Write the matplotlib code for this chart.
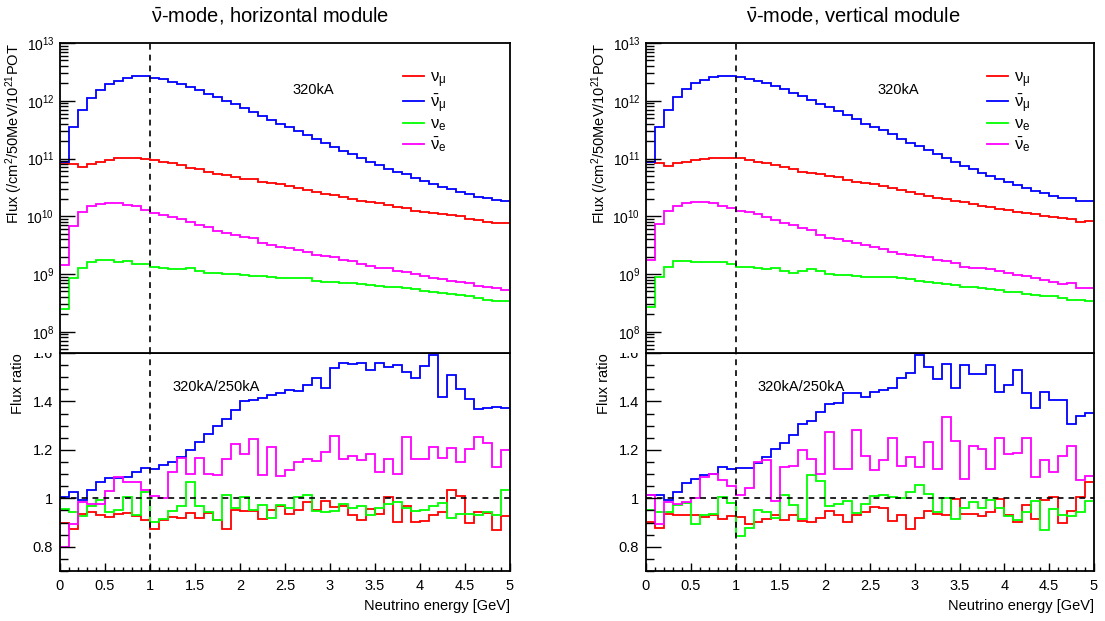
import numpy as np
import matplotlib
matplotlib.use("Agg")
import matplotlib.pyplot as plt
from matplotlib.ticker import MultipleLocator, LogLocator, FormatStrFormatter, LogFormatterSciNotation, NullFormatter
from matplotlib.patches import Rectangle
from matplotlib.lines import Line2D

plt.rcParams['font.family'] = ['Liberation Sans', 'DejaVu Sans']
plt.rcParams['mathtext.fontset'] = 'custom'
plt.rcParams['mathtext.rm'] = 'Liberation Sans'
plt.rcParams['mathtext.it'] = 'Liberation Sans:italic'
plt.rcParams['mathtext.bf'] = 'Liberation Sans:bold'

# ---------------- data ----------------
energy_edges = np.linspace(0.0, 5.0, 51)   # GeV, 100 MeV bins

flavour_labels = [r'$\mathrm{\nu_{\mu}}$', r'$\mathrm{\bar{\nu}_{\mu}}$',
                  r'$\mathrm{\nu_{e}}$', r'$\mathrm{\bar{\nu}_{e}}$']
flavour_colors = ['#ff0000', '#0000ff', '#00ff00', '#ff00ff']
module_titles = [r'$\mathrm{\bar{\nu}}$-mode, horizontal module',
                 r'$\mathrm{\bar{\nu}}$-mode, vertical module']

# horizontal module, 320kA flux
h_numu_flux = [8.5e10, 7.9e10, 7.1e10, 7.9e10, 8.7e10, 9.4e10, 1.01e11, 1.03e11, 1.03e11, 9.9e10,
               9.4e10, 8.8e10, 8.3e10, 7.6e10, 6.95e10, 6.5e10, 5.95e10, 5.5e10, 5.2e10, 4.8e10,
               4.5e10, 4.4e10, 4.0e10, 3.8e10, 3.6e10, 3.37e10, 3.03e10, 2.87e10, 2.65e10, 2.42e10,
               2.33e10, 2.12e10, 1.99e10, 1.86e10, 1.79e10, 1.67e10, 1.59e10, 1.47e10, 1.37e10, 1.25e10,
               1.2e10, 1.13e10, 1.1e10, 1.07e10, 1.03e10, 9.0e9, 8.65e9, 8.1e9, 7.7e9, 7.6e9]
h_numubar_flux = [8.8e10, 3.47e11, 6.8e11, 1.12e12, 1.55e12, 1.95e12, 2.24e12, 2.5e12, 2.66e12, 2.66e12,
                  2.51e12, 2.37e12, 2.14e12, 1.95e12, 1.72e12, 1.51e12, 1.33e12, 1.16e12, 1.0e12, 8.65e11,
                  7.4e11, 6.3e11, 5.4e11, 4.6e11, 3.98e11, 3.49e11, 2.96e11, 2.54e11, 2.19e11, 1.85e11,
                  1.6e11, 1.34e11, 1.19e11, 1.02e11, 8.7e10, 7.65e10, 6.67e10, 5.87e10, 5.3e10, 4.63e10,
                  4.15e10, 3.68e10, 3.25e10, 2.95e10, 2.66e10, 2.43e10, 2.19e10, 2.08e10, 1.94e10, 1.82e10]
h_nue_flux = [2.5e8, 8.4e8, 1.29e9, 1.59e9, 1.74e9, 1.74e9, 1.63e9, 1.69e9, 1.47e9, 1.47e9,
              1.34e9, 1.29e9, 1.2e9, 1.22e9, 1.29e9, 1.13e9, 1.05e9, 1.05e9, 1.0e9, 1.0e9,
              9.6e8, 9.35e8, 9.25e8, 9.0e8, 8.65e8, 8.65e8, 8.65e8, 8.65e8, 7.6e8, 7.4e8,
              7.2e8, 7.1e8, 6.9e8, 6.65e8, 6.5e8, 6.3e8, 6.05e8, 6.05e8, 5.8e8, 5.5e8,
              5.15e8, 4.95e8, 4.65e8, 4.45e8, 4.35e8, 4.1e8, 3.9e8, 3.57e8, 3.44e8, 3.47e8]
h_nuebar_flux = [1.46e9, 6.7e9, 1.2e10, 1.52e10, 1.63e10, 1.69e10, 1.69e10, 1.59e10, 1.49e10, 1.3e10,
                 1.14e10, 1.07e10, 9.6e9, 9.0e9, 7.9e9, 7.2e9, 6.5e9, 5.5e9, 5.1e9, 4.66e9,
                 4.36e9, 4.25e9, 3.48e9, 3.13e9, 3.0e9, 2.84e9, 2.65e9, 2.42e9, 2.12e9, 2.07e9,
                 1.99e9, 1.74e9, 1.67e9, 1.52e9, 1.39e9, 1.25e9, 1.25e9, 1.14e9, 1.1e9, 1.0e9,
                 9.35e8, 8.65e8, 8.2e8, 7.6e8, 7.2e8, 6.9e8, 6.3e8, 6.05e8, 5.8e8, 5.4e8]

# horizontal module, 320kA/250kA ratio
h_numu_ratio = [0.898, 0.872, 0.937, 0.944, 0.930, 0.922, 0.937, 0.940, 0.929, 0.912,
                0.875, 0.910, 0.925, 0.920, 0.938, 0.919, 0.940, 0.912, 0.875, 0.950,
                0.948, 0.948, 0.915, 0.950, 0.970, 0.935, 0.953, 0.983, 0.953, 0.988,
                0.963, 0.967, 0.930, 0.909, 0.956, 0.935, 1.004, 0.901, 0.967, 0.903,
                0.908, 0.930, 0.943, 1.036, 1.008, 0.898, 0.942, 0.939, 0.868, 0.928]
h_numubar_ratio = [1.007, 1.025, 0.992, 1.036, 1.067, 1.083, 1.083, 1.090, 1.110, 1.127,
                   1.122, 1.136, 1.149, 1.171, 1.199, 1.233, 1.266, 1.298, 1.329, 1.366,
                   1.402, 1.405, 1.414, 1.426, 1.435, 1.447, 1.443, 1.468, 1.495, 1.457,
                   1.537, 1.557, 1.554, 1.557, 1.530, 1.557, 1.543, 1.550, 1.523, 1.498,
                   1.546, 1.590, 1.418, 1.508, 1.452, 1.412, 1.370, 1.371, 1.377, 1.375]
h_nue_ratio = [0.955, 0.944, 0.928, 0.969, 0.992, 0.942, 0.952, 1.004, 0.932, 1.026,
               0.901, 0.916, 0.946, 0.967, 1.066, 0.967, 0.942, 0.912, 1.012, 0.960,
               1.004, 0.952, 0.974, 0.919, 0.974, 0.960, 1.006, 1.012, 0.949, 0.943,
               0.946, 0.977, 0.960, 0.967, 0.930, 0.960, 0.978, 0.985, 0.960, 0.946,
               0.953, 0.967, 0.981, 0.919, 0.937, 0.937, 0.930, 0.942, 0.932, 1.035]
h_nuebar_ratio = [0.799, 0.893, 0.984, 0.977, 0.976, 1.029, 1.087, 1.066, 1.066, 1.036,
                  1.008, 1.001, 1.108, 1.165, 1.101, 1.166, 1.101, 1.097, 1.163, 1.225,
                  1.181, 1.245, 1.095, 1.211, 1.094, 1.119, 1.149, 1.164, 1.156, 1.193,
                  1.257, 1.163, 1.174, 1.159, 1.181, 1.109, 1.161, 1.101, 1.252, 1.161,
                  1.164, 1.212, 1.167, 1.207, 1.149, 1.204, 1.254, 1.229, 1.130, 1.200]

# vertical module, 320kA flux
v_numu_flux = [8.7e10, 8.3e10, 7.4e10, 8.3e10, 8.8e10, 9.4e10, 9.9e10, 1.03e11, 1.03e11, 1.02e11,
               1.01e11, 9.4e10, 8.8e10, 8.3e10, 7.7e10, 7.1e10, 6.6e10, 5.9e10, 5.7e10, 5.35e10,
               5.0e10, 4.7e10, 4.27e10, 3.94e10, 3.74e10, 3.6e10, 3.37e10, 3.07e10, 2.87e10, 2.65e10,
               2.42e10, 2.26e10, 2.07e10, 1.99e10, 1.86e10, 1.74e10, 1.63e10, 1.52e10, 1.43e10, 1.34e10,
               1.3e10, 1.2e10, 1.14e10, 1.1e10, 1.03e10, 9.6e9, 9.25e9, 8.9e9, 8.1e9, 8.45e9]
v_numubar_flux = [8.8e10, 3.52e11, 7.0e11, 1.16e12, 1.61e12, 2.01e12, 2.3e12, 2.55e12, 2.73e12, 2.73e12,
                  2.59e12, 2.42e12, 2.21e12, 2.01e12, 1.79e12, 1.59e12, 1.39e12, 1.22e12, 1.04e12, 8.9e11,
                  7.7e11, 6.6e11, 5.6e11, 4.84e11, 4.03e11, 3.52e11, 3.09e11, 2.67e11, 2.19e11, 1.87e11,
                  1.64e11, 1.38e11, 1.18e11, 1.03e11, 8.8e10, 7.4e10, 6.5e10, 5.7e10, 5.0e10, 4.4e10,
                  3.94e10, 3.5e10, 3.07e10, 2.76e10, 2.52e10, 2.26e10, 2.07e10, 2.07e10, 1.86e10, 1.86e10]
v_nue_flux = [2.74e8, 9.0e8, 1.3e9, 1.69e9, 1.69e9, 1.63e9, 1.63e9, 1.59e9, 1.59e9, 1.47e9,
              1.3e9, 1.3e9, 1.25e9, 1.2e9, 1.25e9, 1.14e9, 1.05e9, 1.14e9, 1.2e9, 1.14e9,
              1.0e9, 9.6e8, 9.6e8, 9.35e8, 8.8e8, 8.8e8, 8.8e8, 9.0e8, 8.4e8, 8.1e8,
              7.7e8, 7.2e8, 6.9e8, 6.7e8, 6.5e8, 6.05e8, 6.05e8, 5.8e8, 5.5e8, 5.3e8,
              4.95e8, 4.8e8, 4.5e8, 4.35e8, 4.1e8, 4.25e8, 3.9e8, 3.57e8, 3.57e8, 3.48e8]
v_nuebar_flux = [1.74e9, 7.4e9, 1.23e10, 1.53e10, 1.68e10, 1.75e10, 1.75e10, 1.71e10, 1.5e10, 1.38e10,
                 1.23e10, 1.18e10, 1.1e10, 9.7e9, 8.5e9, 7.6e9, 6.95e9, 6.35e9, 5.7e9, 4.68e9,
                 4.22e9, 4.1e9, 3.74e9, 3.5e9, 3.16e9, 2.95e9, 2.69e9, 2.42e9, 2.26e9, 2.12e9,
                 2.04e9, 1.99e9, 1.74e9, 1.67e9, 1.57e9, 1.34e9, 1.29e9, 1.25e9, 1.22e9, 1.14e9,
                 1.03e9, 9.6e8, 9.25e8, 8.4e8, 7.9e8, 7.4e8, 6.7e8, 6.9e8, 5.8e8, 5.7e8]

# vertical module, 320kA/250kA ratio
v_numu_ratio = [0.902, 0.877, 0.937, 0.933, 0.930, 0.930, 0.921, 0.930, 0.916, 0.926,
                0.921, 0.894, 0.902, 0.916, 0.932, 0.912, 0.932, 0.905, 0.902, 0.919,
                0.949, 0.930, 0.901, 0.930, 0.943, 0.964, 0.960, 0.908, 0.930, 0.874,
                0.919, 0.949, 0.937, 0.930, 0.999, 0.937, 0.937, 0.926, 0.943, 0.999,
                0.932, 0.902, 0.971, 0.914, 0.992, 1.006, 0.898, 0.946, 1.006, 1.066]
v_numubar_ratio = [1.012, 1.015, 0.992, 1.026, 1.063, 1.080, 1.098, 1.102, 1.128, 1.123,
                   1.126, 1.126, 1.146, 1.171, 1.204, 1.229, 1.263, 1.305, 1.319, 1.356,
                   1.390, 1.394, 1.436, 1.436, 1.418, 1.440, 1.447, 1.454, 1.495, 1.519,
                   1.592, 1.543, 1.491, 1.554, 1.457, 1.550, 1.514, 1.512, 1.549, 1.439,
                   1.468, 1.531, 1.436, 1.374, 1.440, 1.408, 1.404, 1.305, 1.339, 1.353]
v_nue_ratio = [0.950, 0.943, 0.943, 0.971, 0.981, 0.895, 0.932, 0.935, 1.004, 0.981,
               0.846, 0.877, 0.950, 0.943, 0.919, 1.012, 0.974, 0.916, 1.095, 1.073,
               0.967, 0.978, 0.988, 0.939, 0.977, 1.008, 1.015, 1.004, 1.001, 1.025,
               1.057, 1.018, 0.943, 1.001, 0.916, 0.960, 0.983, 0.960, 0.994, 0.960,
               0.926, 0.910, 0.945, 0.990, 0.868, 0.958, 0.932, 0.928, 0.943, 0.990]
v_nuebar_ratio = [1.012, 0.895, 0.983, 0.978, 0.985, 1.001, 1.087, 1.102, 1.074, 1.052,
                  1.012, 1.043, 1.150, 1.160, 0.988, 1.128, 1.135, 1.199, 1.163, 1.101,
                  1.273, 1.123, 1.123, 1.281, 1.174, 1.116, 1.157, 1.250, 1.132, 1.171,
                  1.130, 1.233, 1.123, 1.334, 1.236, 1.080, 1.215, 1.204, 1.121, 1.250,
                  1.183, 1.186, 1.250, 1.090, 1.160, 1.109, 1.174, 1.218, 1.074, 1.091]

modules = [
    dict(title=module_titles[0],
         flux=[h_numu_flux, h_numubar_flux, h_nue_flux, h_nuebar_flux],
         ratio=[h_numu_ratio, h_numubar_ratio, h_nue_ratio, h_nuebar_ratio]),
    dict(title=module_titles[1],
         flux=[v_numu_flux, v_numubar_flux, v_nue_flux, v_nuebar_flux],
         ratio=[v_numu_ratio, v_numubar_ratio, v_nue_ratio, v_nuebar_ratio]),
]

# ---------------- layout ----------------
W, H = 1105, 621
fig = plt.figure(figsize=(W / 100, H / 100), dpi=100)

panel_x = [(60, 450), (646, 448)]          # pixel left, width
top_y0, top_y1 = 43, 353                   # pixels from top
rat_y1 = 571
title_x = [270, 853]

def fx(px):
    return px / W

def fy(py):
    return 1 - py / H

lw_data = 1.3
dash = (0, (3.5, 3))

for m, (x0, w), tx in zip(modules, panel_x, title_x):
    ax_r = fig.add_axes([fx(x0), fy(rat_y1), fx(w), fy(top_y1) - fy(rat_y1)], zorder=0)
    ax_t = fig.add_axes([fx(x0), fy(top_y1), fx(w), fy(top_y0) - fy(top_y1)], zorder=2)
    # white pad area above the ratio panel (hides the top of the 1.6 label)
    fig.add_artist(Rectangle((fx(x0 - 58), fy(top_y1)), fx(58), fy(0) - fy(top_y1),
                             transform=fig.transFigure, facecolor='white',
                             edgecolor='none', zorder=1))

    # ---- top: flux ----
    for vals, col in zip(m['flux'], flavour_colors):
        ax_t.stairs(vals, energy_edges, baseline=None, color=col, lw=lw_data)
    ax_t.set_yscale('log')
    ax_t.set_xlim(0, 5)
    ax_t.set_ylim(4.3e7, 1e13)
    ax_t.axvline(1.0, color='black', lw=1.2, ls=dash)
    ax_t.yaxis.set_major_locator(LogLocator(base=10, numticks=20))
    ax_t.yaxis.set_minor_locator(LogLocator(base=10, subs=np.arange(2, 10), numticks=20))
    ax_t.yaxis.set_major_formatter(LogFormatterSciNotation())
    ax_t.yaxis.set_minor_formatter(NullFormatter())
    ax_t.tick_params(axis='y', which='major', direction='in', length=11, width=1.0,
                     labelsize=10, pad=4, right=False)
    ax_t.tick_params(axis='y', which='minor', direction='in', length=6, width=1.0, right=False)
    ax_t.tick_params(axis='x', which='both', bottom=False, top=False, labelbottom=False)
    ax_t.set_ylabel('Flux (/cm$^{2}$/50MeV/10$^{21}$POT', fontsize=10.5, loc='top')
    ax_t.yaxis.set_label_coords(-0.078, 1.0)
    for s in ax_t.spines.values():
        s.set_linewidth(1.3)
    ax_t.text(0.516, 0.848, '320kA', transform=ax_t.transAxes, fontsize=10.5,
              va='center', ha='left')
    handles = [Line2D([], [], color=c, lw=lw_data) for c in flavour_colors]
    ax_t.legend(handles, flavour_labels, loc='upper left', bbox_to_anchor=(0.762, 0.912),
                frameon=False, fontsize=12, handlelength=1.25, handletextpad=0.35,
                labelspacing=0.12, borderpad=0, borderaxespad=0)

    # ---- bottom: ratio ----
    for vals, col in zip(m['ratio'], flavour_colors):
        ax_r.stairs(vals, energy_edges, baseline=None, color=col, lw=lw_data)
    ax_r.set_xlim(0, 5)
    ax_r.set_ylim(0.7, 1.6)
    ax_r.axvline(1.0, color='black', lw=1.2, ls=dash)
    ax_r.axhline(1.0, color='black', lw=1.2, ls=dash)
    ax_r.xaxis.set_major_locator(MultipleLocator(0.5))
    ax_r.xaxis.set_minor_locator(MultipleLocator(0.1))
    ax_r.yaxis.set_major_locator(MultipleLocator(0.2))
    ax_r.yaxis.set_minor_locator(MultipleLocator(0.05))
    ax_r.xaxis.set_major_formatter(FormatStrFormatter('%g'))
    ax_r.yaxis.set_major_formatter(FormatStrFormatter('%g'))
    ax_r.tick_params(axis='y', which='major', direction='in', length=11, width=1.0,
                     labelsize=10.5, pad=5, right=False)
    ax_r.tick_params(axis='y', which='minor', direction='in', length=6, width=1.0, right=False)
    ax_r.tick_params(axis='x', which='major', direction='in', length=6, width=1.0,
                     labelsize=10.5, pad=6, top=False)
    ax_r.tick_params(axis='x', which='minor', direction='in', length=3, width=1.0, top=False)
    ax_r.set_ylabel('Flux ratio', fontsize=10.5, loc='top')
    ax_r.yaxis.set_label_coords(-0.078, 1.0)
    ax_r.set_xlabel('Neutrino energy [GeV]', fontsize=10.5, loc='right')
    ax_r.xaxis.set_label_coords(1.0, -0.13)
    for s in ax_r.spines.values():
        s.set_linewidth(1.3)
    ax_r.text(0.249, 0.844, '320kA/250kA', transform=ax_r.transAxes, fontsize=10.5,
              va='center', ha='left')

    fig.text(fx(tx), fy(15), m['title'], fontsize=14.5, ha='center', va='center')

fig.savefig('out.png', dpi=100)
